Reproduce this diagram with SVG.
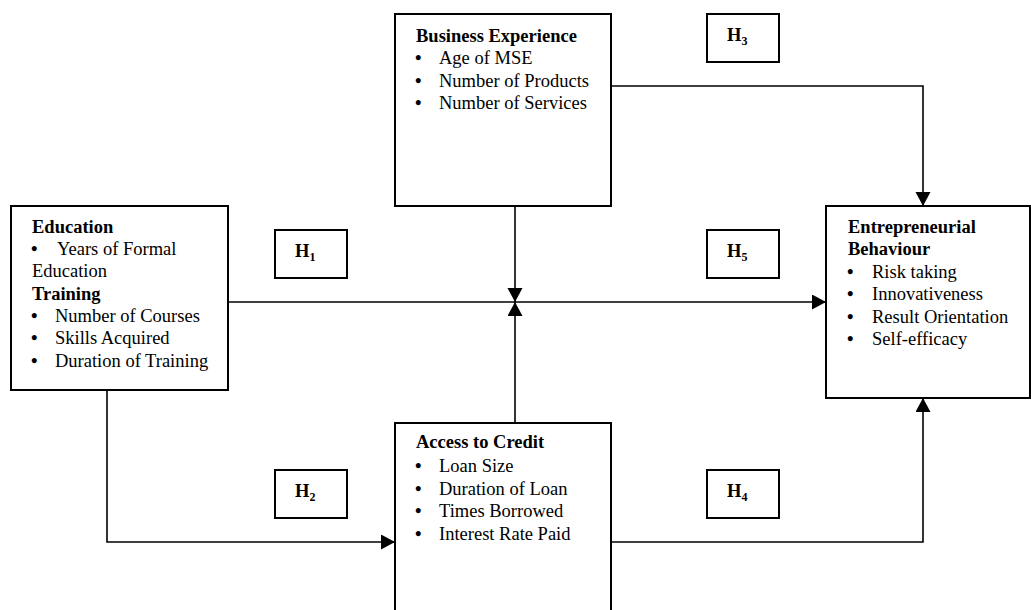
<svg xmlns="http://www.w3.org/2000/svg" width="1031" height="610" viewBox="0 0 1031 610">
<style>
.box{fill:#fff;stroke:#000;stroke-width:2}
.con{fill:none;stroke:#000;stroke-width:1.6}
text{font-family:"Liberation Serif","Times New Roman",serif;font-size:18.5px;fill:#000}
.b{font-weight:bold}
.bu{font-weight:bold}
.sub{font-size:12px;font-weight:bold}
</style>
<defs>
<marker id="arr" markerUnits="userSpaceOnUse" markerWidth="16" markerHeight="16" refX="14" refY="7.5" orient="auto">
<path d="M0,0 L14,7.5 L0,15 Z" fill="#000"/>
</marker>
</defs>
<rect width="1031" height="610" fill="#fff"/>
<g id="connectors">
<line class="con" x1="228" y1="302" x2="826" y2="302" marker-end="url(#arr)"/>
<line class="con" x1="515" y1="206" x2="515" y2="302" marker-end="url(#arr)"/>
<line class="con" x1="515" y1="423" x2="515" y2="302" marker-end="url(#arr)"/>
<polyline class="con" points="611,86 923,86 923,206" marker-end="url(#arr)"/>
<polyline class="con" points="611,542 923,542 923,398" marker-end="url(#arr)"/>
<polyline class="con" points="107,390 107,542 395,542" marker-end="url(#arr)"/>
</g>
<g id="business-experience">
<rect class="box" x="395" y="14" width="216" height="192"/>
<text class="b" x="416" y="42">Business Experience</text>
<text x="415" y="64"><tspan class="bu">•</tspan><tspan x="439">Age of MSE</tspan></text>
<text x="415" y="87"><tspan class="bu">•</tspan><tspan x="439">Number of Products</tspan></text>
<text x="415" y="109"><tspan class="bu">•</tspan><tspan x="439">Number of Services</tspan></text>
</g>
<g id="education">
<rect class="box" x="11" y="206" width="217" height="184"/>
<text class="b" x="32" y="233">Education</text>
<text x="31" y="255"><tspan class="bu">•</tspan><tspan x="57">Years of Formal</tspan></text>
<text x="32" y="277">Education</text>
<text class="b" x="32" y="300">Training</text>
<text x="31" y="322"><tspan class="bu">•</tspan><tspan x="55">Number of Courses</tspan></text>
<text x="31" y="344"><tspan class="bu">•</tspan><tspan x="55">Skills Acquired</tspan></text>
<text x="31" y="367"><tspan class="bu">•</tspan><tspan x="55">Duration of Training</tspan></text>
</g>
<g id="entrepreneurial-behaviour">
<rect class="box" x="826" y="206" width="204" height="192"/>
<text class="b" x="848" y="233">Entrepreneurial</text>
<text class="b" x="848" y="255">Behaviour</text>
<text x="847" y="278"><tspan class="bu">•</tspan><tspan x="872">Risk taking</tspan></text>
<text x="847" y="300"><tspan class="bu">•</tspan><tspan x="872">Innovativeness</tspan></text>
<text x="847" y="323"><tspan class="bu">•</tspan><tspan x="872">Result Orientation</tspan></text>
<text x="847" y="345"><tspan class="bu">•</tspan><tspan x="872">Self-efficacy</tspan></text>
</g>
<g id="access-to-credit">
<rect class="box" x="395" y="423" width="216" height="195"/>
<text class="b" x="416" y="448">Access to Credit</text>
<text x="415" y="472"><tspan class="bu">•</tspan><tspan x="439">Loan Size</tspan></text>
<text x="415" y="495"><tspan class="bu">•</tspan><tspan x="439">Duration of Loan</tspan></text>
<text x="415" y="517"><tspan class="bu">•</tspan><tspan x="439">Times Borrowed</tspan></text>
<text x="415" y="540"><tspan class="bu">•</tspan><tspan x="439">Interest Rate Paid</tspan></text>
</g>
<g id="h1">
<rect class="box" x="275" y="230" width="72" height="48"/>
<text class="b" x="295" y="257">H<tspan class="sub" dy="4">1</tspan></text>
</g>
<g id="h2">
<rect class="box" x="275" y="470" width="72" height="48"/>
<text class="b" x="295" y="497">H<tspan class="sub" dy="4">2</tspan></text>
</g>
<g id="h3">
<rect class="box" x="707" y="14" width="72" height="48"/>
<text class="b" x="727" y="41">H<tspan class="sub" dy="4">3</tspan></text>
</g>
<g id="h4">
<rect class="box" x="707" y="470" width="72" height="48"/>
<text class="b" x="727" y="497">H<tspan class="sub" dy="4">4</tspan></text>
</g>
<g id="h5">
<rect class="box" x="707" y="230" width="72" height="48"/>
<text class="b" x="727" y="257">H<tspan class="sub" dy="4">5</tspan></text>
</g>
</svg>
